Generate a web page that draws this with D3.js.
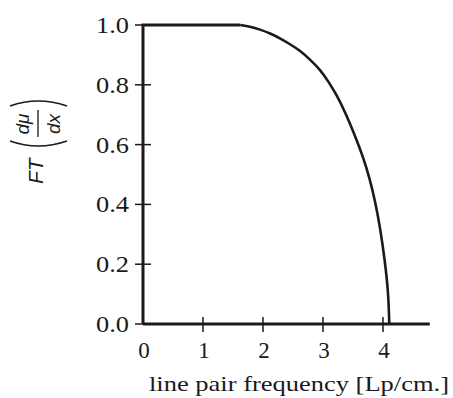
<!DOCTYPE html>
<html>
<head>
<meta charset="utf-8">
<script src="https://cdn.jsdelivr.net/npm/d3@7"></script>
<style>
  html, body { margin: 0; padding: 0; background: #fff; }
  svg { display: block; }
</style>
</head>
<body>
<svg id="chart" width="453" height="398"></svg>
<script>
// values
const freqTicks = [0, 1, 2, 3, 4];
const mtfTicks = [0.0, 0.2, 0.4, 0.6, 0.8, 1.0];
// flat part: drawn straight
const flatFreq = [0, 0, 1.62];
const flatMtf = [0, 1, 1];
// roll-off part: drawn smooth
const rollFreq = [1.62, 1.78, 1.95, 2.12, 2.28, 2.45, 2.62, 2.78, 2.95, 3.1, 3.23, 3.37, 3.53, 3.67, 3.78, 3.87, 3.95, 4.03, 4.09, 4.105];
const rollMtf = [1.0, 0.995, 0.985, 0.972, 0.956, 0.936, 0.914, 0.885, 0.852, 0.808, 0.765, 0.708, 0.632, 0.558, 0.485, 0.41, 0.325, 0.214, 0.103, 0.0];

const xLabel = "line pair frequency [Lp/cm.]";

const svg = d3.select("#chart");
const ink = "#1a1a1a";
const serif = "'Liberation Serif', 'Times New Roman', serif";
const sans = "'Liberation Sans', Arial, sans-serif";

const x = d3.scaleLinear().domain([0, 4]).range([143, 383]);
const y = d3.scaleLinear().domain([0, 1]).range([324, 25]);

// x axis line runs a bit past the last tick
svg.append("line")
  .attr("x1", x(0)).attr("x2", x(4.78))
  .attr("y1", y(0)).attr("y2", y(0))
  .attr("stroke", ink).attr("stroke-width", 3);

// ticks cross the axis on both sides
svg.append("g")
  .selectAll("line")
  .data(freqTicks.slice(1))
  .join("line")
  .attr("x1", (d) => x(d)).attr("x2", (d) => x(d))
  .attr("y1", y(0) - 7).attr("y2", y(0) + 8)
  .attr("stroke", ink).attr("stroke-width", 1.5);

svg.append("g")
  .selectAll("text")
  .data(freqTicks)
  .join("text")
  .attr("x", (d) => x(d) + 1)
  .attr("y", 358)
  .attr("text-anchor", "middle")
  .attr("font-family", serif)
  .attr("font-size", 23)
  .attr("fill", ink)
  .text((d) => d);

svg.append("g")
  .selectAll("line")
  .data(mtfTicks)
  .join("line")
  .attr("x1", x(0) - 8).attr("x2", x(0) + 8)
  .attr("y1", (d) => y(d)).attr("y2", (d) => y(d))
  .attr("stroke", ink).attr("stroke-width", 1.5);

svg.append("g")
  .selectAll("text")
  .data(mtfTicks)
  .join("text")
  .attr("x", 129)
  .attr("y", (d) => y(d) + 8)
  .attr("text-anchor", "end")
  .attr("font-family", serif)
  .attr("font-size", 23)
  .attr("textLength", 33)
  .attr("lengthAdjust", "spacingAndGlyphs")
  .attr("fill", ink)
  .text((d) => d.toFixed(1));

// the curve itself; basis spline smooths out reading noise
const straight = d3.line().x((d) => x(d[0])).y((d) => y(d[1]));
const smooth = d3.line().x((d) => x(d[0])).y((d) => y(d[1])).curve(d3.curveBasis);

svg.append("path")
  .attr("d", straight(d3.zip(flatFreq, flatMtf)))
  .attr("fill", "none").attr("stroke", ink).attr("stroke-width", 3)
  .attr("stroke-linejoin", "miter");

svg.append("path")
  .attr("d", smooth(d3.zip(rollFreq, rollMtf)))
  .attr("fill", "none").attr("stroke", ink).attr("stroke-width", 2.6);

// x title
svg.append("text")
  .attr("x", 149)
  .attr("y", 391)
  .attr("font-family", serif)
  .attr("font-size", 22)
  .attr("textLength", 300)
  .attr("lengthAdjust", "spacingAndGlyphs")
  .attr("fill", ink)
  .text(xLabel);

// y title FT(du/dx), rotated
const yt = svg.append("g").attr("transform", "translate(38,140) rotate(-90)");
yt.append("text")
  .attr("x", -44).attr("y", 5)
  .attr("font-family", sans).attr("font-style", "italic")
  .attr("font-size", 21).attr("fill", ink)
  .text("FT");
yt.append("text")
  .attr("x", 16).attr("y", -9)
  .attr("text-anchor", "middle")
  .attr("font-family", sans).attr("font-style", "italic")
  .attr("font-size", 19).attr("fill", ink)
  .text("d\u03bc");
yt.append("text")
  .attr("x", 16).attr("y", 22)
  .attr("text-anchor", "middle")
  .attr("font-family", sans).attr("font-style", "italic")
  .attr("font-size", 19).attr("fill", ink)
  .text("dx");
yt.append("line")
  .attr("x1", 3).attr("x2", 30).attr("y1", 0).attr("y2", 0)
  .attr("stroke", ink).attr("stroke-width", 1.3);
yt.append("path")
  .attr("d", "M-1,-28 Q-11,0 -1,29")
  .attr("fill", "none").attr("stroke", ink).attr("stroke-width", 1.6);
yt.append("path")
  .attr("d", "M34,-28 Q44,0 34,29")
  .attr("fill", "none").attr("stroke", ink).attr("stroke-width", 1.6);
</script>
</body>
</html>
